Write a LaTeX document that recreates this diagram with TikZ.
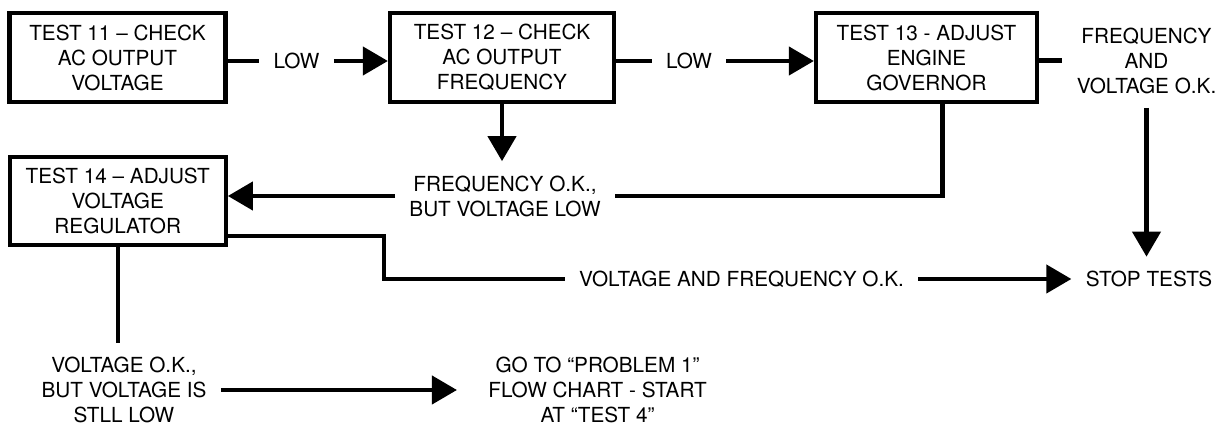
\documentclass[tikz,border=0pt]{standalone}
\usepackage{fontspec}
\setmainfont{TeX Gyre Heros}
\usepackage{tikz}
\usetikzlibrary{arrows.meta}

\tikzset{
  testbox/.style={draw, line width=2.4pt, minimum height=1.78cm, align=center, inner sep=2pt},
  lbl/.style={align=center, inner sep=8pt},
  wire/.style={line width=2.4pt},
  arr/.style={wire, -{Triangle[length=0.5cm,width=0.56cm]}}
}

\begin{document}
\begin{tikzpicture}[every node/.style={font=\fontsize{11.8}{14.2}\selectfont}]
  \useasboundingbox (0,0) rectangle (24.48,-8.5);
  % boxes
  \node[testbox, minimum width=4.32cm] (t11) at (2.35,-1.15) {TEST 11 – CHECK\\AC OUTPUT\\VOLTAGE};
  \node[testbox, minimum width=4.48cm] (t12) at (10.04,-1.15) {TEST 12 – CHECK\\AC OUTPUT\\FREQUENCY};
  \node[testbox, minimum width=4.42cm] (t13) at (18.53,-1.15) {TEST 13 - ADJUST\\ENGINE\\GOVERNOR};
  \node[testbox, minimum width=4.32cm, minimum height=1.76cm] (t14) at (2.355,-4.02) {TEST 14 – ADJUST\\VOLTAGE\\REGULATOR};
  % labels
  \node[lbl] (lowA) at (5.93,-1.22) {LOW};
  \node[lbl] (lowB) at (13.78,-1.22) {LOW};
  \node[lbl] (fvok) at (22.93,-1.21) {FREQUENCY\\AND\\VOLTAGE O.K.};
  \node[lbl] (fok) at (10.1,-3.92) {FREQUENCY O.K.,\\BUT VOLTAGE LOW};
  \node[lbl] (vafok) at (14.83,-5.58) {VOLTAGE AND FREQUENCY O.K.};
  \node[lbl] (stop) at (22.98,-5.58) {STOP TESTS};
  \node[lbl] (vok) at (2.48,-7.8) {VOLTAGE O.K.,\\BUT VOLTAGE IS\\STLL LOW};
  \node[lbl] (goto) at (11.95,-7.8) {GO TO “PROBLEM 1”\\FLOW CHART - START\\AT “TEST 4”};
  % connectors
  \draw[wire] (t11.east |- lowA) -- (lowA);
  \draw[arr] (lowA) -- (lowA -| t12.west);
  \draw[wire] (t12.east |- lowB) -- (lowB);
  \draw[arr] (lowB) -- (lowB -| t13.west);
  \draw[wire] (t13.east |- fvok) -- (fvok);
  \draw[arr] (fvok) -- (fvok |- stop.north);
  \draw[arr] (t12) -- (t12 |- fok.north);
  \draw[arr] (fok) -- (fok -| t14.east);
  \draw[wire] ([xshift=0.32cm]t13.south) |- (fok);
  \draw[wire] ([yshift=-0.7cm]t14.east) -- ++(3.12cm,0) |- (vafok);
  \draw[arr] (vafok) -- (stop);
  \draw[wire] (t14) -- (t14 |- vok.north);
  \draw[arr, shorten >=0.34cm] (vok) -- (goto);
\end{tikzpicture}
\end{document}
